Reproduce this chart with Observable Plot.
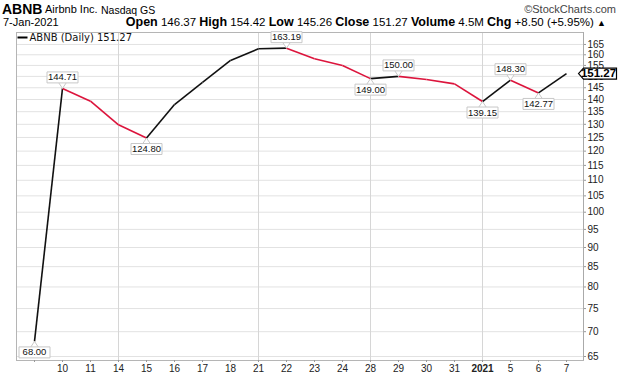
<!DOCTYPE html>
<html><head><meta charset="utf-8">
<script src="https://cdn.jsdelivr.net/npm/d3@7"></script>
<script src="https://cdn.jsdelivr.net/npm/@observablehq/plot@0.6"></script>
<style>
body{margin:0;background:#fff;font-family:"Liberation Sans",Arial,sans-serif;color:#000;}
#wrap{position:relative;width:620px;height:376px;overflow:hidden;}
#hdr{position:relative;height:30px;width:620px;}
#hdr span{position:absolute;white-space:nowrap;}
#chart{position:absolute;left:0;top:30px;}
</style></head>
<body><div id="wrap">
<div id="hdr">
 <span style="left:2px;top:1px;font-size:14px;font-weight:bold;">ABNB</span>
 <span style="left:45px;top:3px;font-size:11px;">Airbnb Inc.</span>
 <span style="left:101px;top:4px;font-size:10.5px;">Nasdaq GS</span>
 <span style="right:4px;top:3px;font-size:11px;color:#444;">©StockCharts.com</span>
 <span style="left:3px;top:16px;font-size:11px;">7-Jan-2021</span>
 <span id="ohlc" style="right:14px;top:15px;font-size:11.5px;"></span>
</div>
<div id="chart"></div>
</div>
<script>
// ---- data ----
const dates = ["9","10","11","14","15","16","17","18","21","22","23","24","28","29","30","31","2021","5","6","7"];
const closes = [68.00,144.71,139.3,129.8,124.80,137.9,147.3,157.3,162.9,163.19,158.1,155.0,149.00,150.00,148.6,146.7,139.15,148.30,142.77,151.27];
const labeledDates = ["9","10","15","22","28","29","2021","5","6"];
const labelSides = ["below","above","below","above","below","above","below","above","below"];
const yTicks = [65,70,75,80,85,90,95,100,105,110,115,120,125,130,135,140,145,150,155,160,165];
const weekStarts = ["14","21","28","2021"];
const headerFields = ["Open","High","Low","Close","Volume","Chg"];
const headerValues = ["146.37","154.42","145.26","151.27","4.5M","+8.50 (+5.95%)"];
const lastClose = 151.27;
const upColor = "#111111", downColor = "#dc143c";

// header
document.getElementById("ohlc").innerHTML = headerFields.map((f,i)=>
  `<b style="font-size:12.5px">${f}</b> ${headerValues[i]}`).join(" ") + ' <span style="position:static;font-size:9px">▲</span>';

// ---- derived tables ----
const segs = [];
for (let i = 1; i < dates.length; i++) {
  segs.push({x1: dates[i-1], y1: closes[i-1], x2: dates[i], y2: closes[i], up: closes[i] >= closes[i-1]});
}
const labels = labeledDates.map((d,i)=>({date:d, value: closes[dates.indexOf(d)], side: labelSides[i]}));
const fmt = v => v.toFixed(2);

function boxSym(w,h){return {draw(ctx){ctx.rect(-w/2,-h/2,w,h);}};}
const pointerUp = {draw(ctx){ctx.moveTo(-4,-6);ctx.lineTo(0,0);ctx.lineTo(4,-6);}};
const pointerDown = {draw(ctx){ctx.moveTo(-4,6);ctx.lineTo(0,0);ctx.lineTo(4,6);}};
const tagSym = {draw(ctx){ctx.moveTo(-19,0);ctx.lineTo(-14,-5.5);ctx.lineTo(19,-5.5);ctx.lineTo(19,5.5);ctx.lineTo(-14,5.5);ctx.closePath();}};
const dashSym = {draw(ctx){ctx.rect(-5,-1,10,2);}};

const above = labels.filter(d=>d.side==="above");
const below = labels.filter(d=>d.side==="below");
const F = "Liberation Sans, Arial, sans-serif";

const plot = Plot.plot({
  width: 620, height: 346,
  marginTop: 2, marginBottom: 16, marginLeft: 16, marginRight: 37,
  style: {fontFamily: F, fontSize: "10px", color: "#222", background: "#fff"},
  x: {type: "point", domain: dates, padding: 0.5, label: null},
  y: {type: "log", domain: [64.23, 171], label: null},
  marks: [
    Plot.gridY(yTicks, {stroke: "#e2e2e2", strokeOpacity: 1}),
    Plot.gridX(weekStarts, {stroke: "#d6d6d6", strokeOpacity: 1}),
    Plot.frame({anchor: "top", stroke: "#b5b5b5"}),
    Plot.frame({anchor: "left", stroke: "#b5b5b5"}),
    Plot.frame({anchor: "bottom", stroke: "#b5b5b5"}),
    Plot.frame({anchor: "right", stroke: "#aaa", strokeDasharray: "1,1"}),
    Plot.axisY(yTicks, {anchor: "right", tickSize: 2, tickPadding: 2, stroke: "#999", label: null, tickFormat: () => ""}),
    Plot.text(yTicks, {y: d => d, frameAnchor: "right", dx: 4, textAnchor: "start", text: d => String(d), fill: "#222", fontSize: 10, lineAnchor: "middle"}),
    Plot.axisX({anchor: "bottom", tickSize: 2, tickPadding: 2, stroke: "#999", fill: "#222", fontSize: 10, label: null,
      tickFormat: d => d === "9" ? "" : d}),
    Plot.link(segs, {x1: "x1", y1: "y1", x2: "x2", y2: "y2", stroke: d => d.up ? upColor : downColor, strokeWidth: 1.6}),
    // label pointers
    Plot.dot(above, {x: "date", y: "value", symbol: pointerUp, r: 3, stroke: "#c8c8c8", fill: "white", strokeWidth: 1}),
    Plot.dot(below, {x: "date", y: "value", symbol: pointerDown, r: 3, stroke: "#c8c8c8", fill: "white", strokeWidth: 1}),
    // label boxes
    Plot.dot(above, {x: "date", y: "value", dy: -11, symbol: boxSym(31,11), r: 3, stroke: "#c8c8c8", fill: "white", strokeWidth: 1}),
    Plot.dot(below, {x: "date", y: "value", dy: 11, symbol: boxSym(31,11), r: 3, stroke: "#c8c8c8", fill: "white", strokeWidth: 1}),
    Plot.text(above, {x: "date", y: "value", dy: -11, text: d => fmt(d.value), fill: "#111", fontSize: 9.5, lineAnchor: "middle"}),
    Plot.text(below, {x: "date", y: "value", dy: 11, text: d => fmt(d.value), fill: "#111", fontSize: 9.5, lineAnchor: "middle"}),
    // price tag at right
    Plot.dot([lastClose], {x: () => dates[dates.length-1], y: d => d, dx: 31, symbol: tagSym, r: 3, stroke: "#000", fill: "white", strokeWidth: 1.2}),
    Plot.text([lastClose], {x: () => dates[dates.length-1], y: d => d, dx: 32, text: d => fmt(d), fontWeight: "bold", fontSize: 11.5, fill: "#000", lineAnchor: "middle"}),
    // legend
    Plot.dot([0], {frameAnchor: "top-left", dx: 6, dy: 5, symbol: dashSym, r: 3, fill: "#000", stroke: null}),
    Plot.text([0], {frameAnchor: "top-left", dx: 13, dy: 5, text: () => "ABNB (Daily) " + fmt(lastClose), textAnchor: "start", lineAnchor: "middle", fontFamily: "DejaVu Sans", fontSize: 10, fill: "#111"})
  ]
});
document.getElementById("chart").appendChild(plot);
// bold the year tick label
d3.select(plot).selectAll("text").filter(function(){return this.textContent === "2021";}).attr("font-weight", "bold");
</script>
</body></html>
